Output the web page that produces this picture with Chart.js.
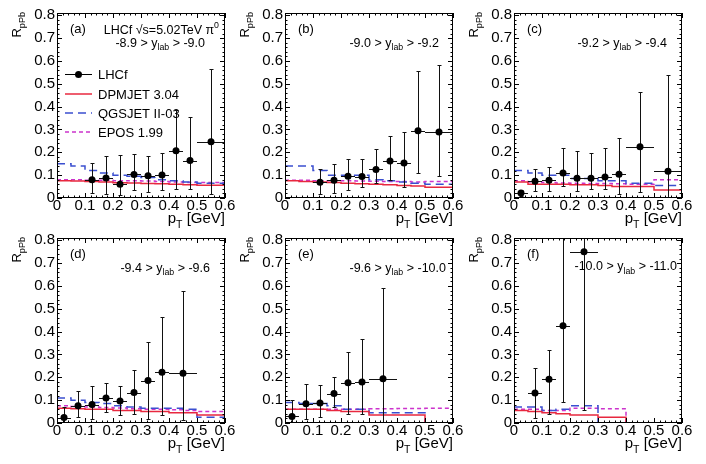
<!DOCTYPE html>
<html>
<head>
<meta charset="utf-8">
<script src="https://cdn.jsdelivr.net/npm/chart.js@4.4.1/dist/chart.umd.min.js"></script>
<style>
html, body { margin: 0; padding: 0; background: #fff; }
#wrap { position: relative; width: 706px; height: 464px; overflow: hidden; }
#wrap canvas { position: absolute; }
</style>
</head>
<body>
<div id="wrap"></div>
<script>
// --- data ---
const panelTags = ['(a)', '(b)', '(c)', '(d)', '(e)', '(f)'];
const yLabHigh = ['-8.9', '-9.0', '-9.2', '-9.4', '-9.6', '-10.0'];
const yLabLow = ['-9.0', '-9.2', '-9.4', '-9.6', '-10.0', '-11.0'];
const modelNames = ['DPMJET 3.04', 'QGSJET II-03', 'EPOS 1.99'];
const xTicks = [0, 0.1, 0.2, 0.3, 0.4, 0.5, 0.6];
const yTicks = [0, 0.1, 0.2, 0.3, 0.4, 0.5, 0.6, 0.7, 0.8];

// LHCf points: bin centre, half bin width, R_pPb, bottom and top of error bar
const lhcfPt = [
  [0.125, 0.175, 0.225, 0.275, 0.325, 0.375, 0.425, 0.475, 0.55],
  [0.125, 0.175, 0.225, 0.275, 0.325, 0.375, 0.425, 0.475, 0.55],
  [0.025, 0.075, 0.125, 0.175, 0.225, 0.275, 0.325, 0.375, 0.45, 0.55],
  [0.025, 0.075, 0.125, 0.175, 0.225, 0.275, 0.325, 0.375, 0.45],
  [0.025, 0.075, 0.125, 0.175, 0.225, 0.275, 0.35],
  [0.075, 0.125, 0.175, 0.25]
];
const lhcfPtHalf = [
  [0.025, 0.025, 0.025, 0.025, 0.025, 0.025, 0.025, 0.025, 0.05],
  [0.025, 0.025, 0.025, 0.025, 0.025, 0.025, 0.025, 0.025, 0.05],
  [0.025, 0.025, 0.025, 0.025, 0.025, 0.025, 0.025, 0.025, 0.05, 0.05],
  [0.025, 0.025, 0.025, 0.025, 0.025, 0.025, 0.025, 0.025, 0.05],
  [0.025, 0.025, 0.025, 0.025, 0.025, 0.025, 0.05],
  [0.025, 0.025, 0.025, 0.05]
];
const lhcfR = [
  [0.08, 0.088, 0.06, 0.103, 0.097, 0.101, 0.207, 0.164, 0.246],
  [0.069, 0.078, 0.095, 0.094, 0.125, 0.162, 0.153, 0.294, 0.289],
  [0.022, 0.073, 0.078, 0.11, 0.086, 0.086, 0.092, 0.104, 0.224, 0.117],
  [0.024, 0.075, 0.081, 0.11, 0.096, 0.133, 0.186, 0.222, 0.218],
  [0.029, 0.084, 0.088, 0.129, 0.176, 0.179, 0.194],
  [0.131, 0.192, 0.426, 0.75]
];
const lhcfRLow = [
  [0.02, 0.016, 0.012, 0.034, 0.026, 0.034, 0.041, 0.041, 0.019],
  [0.019, 0.022, 0.037, 0.046, 0.066, 0.078, 0.046, 0.11, 0.095],
  [0.01, 0.031, 0.031, 0.054, 0.031, 0.041, 0.041, 0.019, 0.026, 0.0],
  [0.0, 0.026, 0.019, 0.047, 0.037, 0.041, 0.019, 0.037, 0.015],
  [0.0, 0.019, 0.026, 0.07, 0.038, 0.038, 0.0],
  [0.022, 0.041, 0.093, 0.056]
];
const lhcfRHigh = [
  [0.154, 0.183, 0.19, 0.192, 0.183, 0.198, 0.385, 0.353, 0.566],
  [0.129, 0.151, 0.17, 0.17, 0.213, 0.273, 0.288, 0.554, 0.581],
  [0.035, 0.125, 0.136, 0.221, 0.205, 0.198, 0.22, 0.264, 0.462, 0.54],
  [0.07, 0.14, 0.16, 0.174, 0.16, 0.231, 0.353, 0.464, 0.579],
  [0.1, 0.169, 0.166, 0.203, 0.31, 0.369, 0.589],
  [0.239, 0.32, 1.0, 1.5]
];

// model histograms, one value per bin of modelEdges
const modelEdges = [0, 0.05, 0.1, 0.15, 0.2, 0.25, 0.3, 0.35, 0.4, 0.45, 0.5, 0.6];
const dpmjet = [
  [0.075, 0.074, 0.072, 0.07, 0.067, 0.066, 0.064, 0.062, 0.06, 0.058, 0.056],
  [0.075, 0.072, 0.07, 0.068, 0.065, 0.062, 0.06, 0.058, 0.055, 0.052, 0.047],
  [0.07, 0.06, 0.06, 0.06, 0.058, 0.058, 0.055, 0.05, 0.05, 0.05, 0.035],
  [0.065, 0.062, 0.06, 0.06, 0.055, 0.055, 0.05, 0.05, 0.045, 0.045, 0.035],
  [0.06, 0.06, 0.06, 0.055, 0.05, 0.05, 0.035, 0.035, 0.035, 0.035, 0],
  [0.055, 0.05, 0.045, 0.04, 0.035, 0.035, 0.025, 0.025, 0, 0, 0]
];
const qgsjet = [
  [0.15, 0.14, 0.12, 0.11, 0.10, 0.095, 0.09, 0.08, 0.075, 0.07, 0.065],
  [0.14, 0.14, 0.12, 0.10, 0.10, 0.10, 0.08, 0.075, 0.07, 0.065, 0.06],
  [0.12, 0.11, 0.10, 0.10, 0.085, 0.085, 0.075, 0.075, 0.065, 0.065, 0.055],
  [0.11, 0.10, 0.09, 0.085, 0.075, 0.07, 0.065, 0.065, 0.065, 0.06, 0.025],
  [0.09, 0.085, 0.085, 0.075, 0.06, 0.06, 0.045, 0.045, 0.045, 0.045, 0],
  [0.07, 0.07, 0.055, 0.06, 0.075, 0.075, 0, 0, 0, 0, 0]
];
const epos = [
  [0.08, 0.08, 0.078, 0.078, 0.076, 0.075, 0.074, 0.072, 0.07, 0.068, 0.068],
  [0.078, 0.078, 0.076, 0.075, 0.075, 0.074, 0.073, 0.072, 0.072, 0.07, 0.072],
  [0.075, 0.07, 0.068, 0.066, 0.065, 0.064, 0.063, 0.062, 0.06, 0.06, 0.08],
  [0.075, 0.072, 0.07, 0.068, 0.066, 0.062, 0.06, 0.06, 0.058, 0.055, 0.05],
  [0.06, 0.06, 0.06, 0.06, 0.06, 0.06, 0.062, 0.062, 0.064, 0.064, 0.065],
  [0.06, 0.06, 0.055, 0.055, 0.065, 0.065, 0.062, 0.062, 0, 0, 0]
];

// --- layout ---
const FONT = '"Liberation Sans", Arial, Helvetica, sans-serif';
const colLeft = [0, 228, 457];
const rowTop = [0, 225];
const canvasW = 238, canvasH = 232;
const padTop = 13, axisW = 57, axisH = 34, padRight = 13;
const rapidityGap = [20, 14, 15, 15, 7, 5];
const colors = { dpmjet: '#e8283f', qgsjet: '#3b4fd0', epos: '#cc33cc' };

function stepPoints(vals) {
  const pts = vals.map((v, k) => ({ x: modelEdges[k], y: v }));
  pts.push({ x: modelEdges[modelEdges.length - 1], y: vals[vals.length - 1] });
  return pts;
}

// draw text with sub/superscript pieces: parts = [[text, 'sub'|'sup'|undefined], ...]
function textRun(ctx, parts, x, y, size, align) {
  const sizeOf = p => (p[1] ? size * 0.7 : size);
  let width = 0;
  for (const p of parts) {
    ctx.font = sizeOf(p).toFixed(1) + 'px ' + FONT;
    width += ctx.measureText(p[0]).width;
  }
  let cx = align === 'right' ? x - width : x;
  ctx.textAlign = 'left';
  for (const p of parts) {
    ctx.font = sizeOf(p).toFixed(1) + 'px ' + FONT;
    const dy = p[1] === 'sub' ? size * 0.3 : p[1] === 'sup' ? -size * 0.45 : 0;
    ctx.fillText(p[0], cx, y + dy);
    cx += ctx.measureText(p[0]).width;
  }
}

function line(ctx, x1, y1, x2, y2) {
  ctx.beginPath();
  ctx.moveTo(x1, y1);
  ctx.lineTo(x2, y2);
  ctx.stroke();
}

function makePanel(i) {
  const canvas = document.createElement('canvas');
  canvas.width = canvasW;
  canvas.height = canvasH;
  canvas.style.left = colLeft[i % 3] + 'px';
  canvas.style.top = rowTop[Math.floor(i / 3)] + 'px';
  document.getElementById('wrap').appendChild(canvas);

  const lhcfData = lhcfPt[i].map((x, k) => ({ x: x, y: lhcfR[i][k] }));

  const errorBars = {
    id: 'errorBars',
    beforeDatasetDraw(chart, args) {
      if (args.index !== 0) return;
      const ctx = chart.ctx, xs = chart.scales.x, ys = chart.scales.y, a = chart.chartArea;
      ctx.save();
      ctx.beginPath();
      ctx.rect(a.left, a.top, a.right - a.left, a.bottom - a.top);
      ctx.clip();
      ctx.strokeStyle = '#111';
      ctx.lineWidth = 1;
      lhcfPt[i].forEach((x, k) => {
        const px = Math.round(xs.getPixelForValue(x)) + 0.5;
        const py = Math.round(ys.getPixelForValue(lhcfR[i][k])) + 0.5;
        const x1 = xs.getPixelForValue(x - lhcfPtHalf[i][k]);
        const x2 = xs.getPixelForValue(x + lhcfPtHalf[i][k]);
        const yl = Math.round(ys.getPixelForValue(lhcfRLow[i][k])) + 0.5;
        const yh = Math.round(ys.getPixelForValue(lhcfRHigh[i][k])) + 0.5;
        line(ctx, x1, py, x2, py);
        line(ctx, px, yl, px, yh);
        line(ctx, px - 2, yl, px + 2, yl);
        line(ctx, px - 2, yh, px + 2, yh);
      });
      ctx.restore();
    }
  };

  const frame = {
    id: 'frame',
    afterDraw(chart) {
      const ctx = chart.ctx, xs = chart.scales.x, ys = chart.scales.y, a = chart.chartArea;
      const L = a.left, R = a.right, T = a.top, B = a.bottom;
      ctx.save();
      ctx.strokeStyle = '#000';
      ctx.lineWidth = 1;
      ctx.strokeRect(L + 0.5, T + 0.5, R - L - 1, B - T - 1);
      // ROOT style ticks inside on all four sides
      for (let k = 0; k <= 30; k++) {
        const v = k * 0.02;
        const len = k % 5 === 0 ? 5 : 2.5;
        const px = Math.round(xs.getPixelForValue(v)) + 0.5;
        line(ctx, px, B, px, B - len);
        line(ctx, px, T, px, T + len);
      }
      for (let k = 0; k <= 40; k++) {
        const v = k * 0.02;
        const len = k % 5 === 0 ? 5 : 2.5;
        const py = Math.round(ys.getPixelForValue(v)) + 0.5;
        line(ctx, L, py, L + len, py);
        line(ctx, R, py, R - len, py);
      }

      ctx.fillStyle = '#000';
      ctx.textBaseline = 'alphabetic';
      // axis titles
      ctx.save();
      ctx.translate(L - 36, T - 1);
      ctx.rotate(-Math.PI / 2);
      textRun(ctx, [['R'], ['pPb', 'sub']], 0, 0, 13, 'right');
      ctx.restore();
      textRun(ctx, [['p'], ['T', 'sub'], [' [GeV]']], R, B + 25, 15, 'right');

      // panel tag and rapidity range
      textRun(ctx, [[panelTags[i]]], L + 13, T + 20, 13, 'left');
      textRun(ctx, [[yLabHigh[i] + ' > y'], ['lab', 'sub'], [' > ' + yLabLow[i]]],
        R - rapidityGap[i], T + (i === 5 ? 32 : 33.5), 12.5, 'right');

      if (i === 0) {
        textRun(ctx, [['LHCf \u221As=5.02TeV \u03C0'], ['0', 'sup']], R - 6, T + 21, 12.5, 'right');
        // legend
        const rows = [T + 61, T + 81, T + 100, T + 119];
        const x1 = L + 8, x2 = L + 35;
        ctx.lineWidth = 1;
        ctx.strokeStyle = '#000';
        line(ctx, x1, rows[0] + 0.5, x2, rows[0] + 0.5);
        ctx.beginPath();
        ctx.arc((x1 + x2) / 2, rows[0] + 0.5, 3.5, 0, Math.PI * 2);
        ctx.fill();
        const styles = [[colors.dpmjet, []], [colors.qgsjet, [8, 5]], [colors.epos, [4, 3]]];
        styles.forEach((s, k) => {
          ctx.strokeStyle = s[0];
          ctx.lineWidth = 1.5;
          ctx.setLineDash(s[1]);
          line(ctx, x1, rows[k + 1], x2, rows[k + 1]);
        });
        ctx.setLineDash([]);
        ctx.textBaseline = 'middle';
        const names = ['LHCf'].concat(modelNames);
        names.forEach((n, k) => textRun(ctx, [[n]], L + 41, rows[k] + 1, 13, 'left'));
      }
      ctx.restore();
    }
  };

  const tickFont = { family: FONT, size: 15, lineHeight: 1 };
  const fmt = v => (v === 0 ? '0' : (Math.round(v * 10) / 10).toString());

  new Chart(canvas, {
    type: 'scatter',
    data: {
      datasets: [
        {
          label: 'LHCf', data: lhcfData, showLine: false,
          pointRadius: 3.5, pointHoverRadius: 3.5,
          backgroundColor: '#000', borderColor: '#000', borderWidth: 0
        },
        {
          label: modelNames[0], data: stepPoints(dpmjet[i]), showLine: true, stepped: true,
          borderColor: colors.dpmjet, borderWidth: 1.5, pointRadius: 0
        },
        {
          label: modelNames[1], data: stepPoints(qgsjet[i]), showLine: true, stepped: true,
          borderColor: colors.qgsjet, borderWidth: 1.5, borderDash: [8, 5], pointRadius: 0
        },
        {
          label: modelNames[2], data: stepPoints(epos[i]), showLine: true, stepped: true,
          borderColor: colors.epos, borderWidth: 1.5, borderDash: [4, 3], pointRadius: 0
        }
      ]
    },
    options: {
      responsive: false,
      devicePixelRatio: 1,
      animation: false,
      events: [],
      layout: { padding: { top: padTop, right: padRight, left: 0, bottom: 0 } },
      plugins: { legend: { display: false }, tooltip: { enabled: false } },
      scales: {
        x: {
          type: 'linear', min: 0, max: 0.6,
          grid: { display: false, drawTicks: false }, border: { display: false },
          afterBuildTicks: s => { s.ticks = xTicks.map(v => ({ value: v })); },
          afterFit: s => { s.height = axisH; },
          ticks: { font: tickFont, color: '#000', padding: 0, maxRotation: 0, autoSkip: false, callback: fmt }
        },
        y: {
          type: 'linear', min: 0, max: 0.81,
          grid: { display: false, drawTicks: false }, border: { display: false },
          afterBuildTicks: s => { s.ticks = yTicks.map(v => ({ value: v })); },
          afterFit: s => { s.width = axisW; },
          ticks: { font: tickFont, color: '#000', padding: 2, autoSkip: false, callback: fmt }
        }
      }
    },
    plugins: [errorBars, frame]
  });
}

document.addEventListener('DOMContentLoaded', function () {
  for (let i = 0; i < 6; i++) makePanel(i);
});
</script>
</body>
</html>
